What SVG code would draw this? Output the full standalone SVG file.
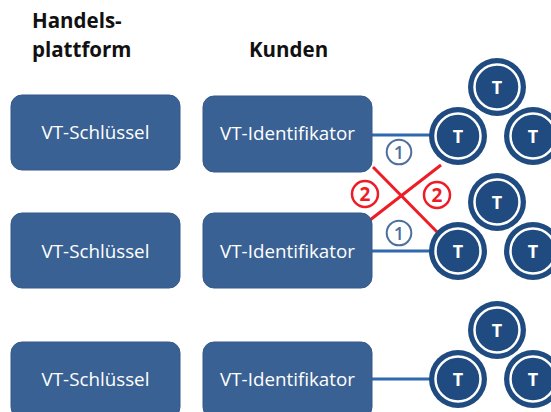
<svg xmlns="http://www.w3.org/2000/svg" width="551" height="412" viewBox="0 0 551 412">
<defs>
<style>
.hdr{font-family:"Open Sans","Liberation Sans",sans-serif;font-weight:bold;font-size:20.5px;fill:#111}
.box{fill:#3a6193;stroke:#34598a;stroke-width:1}
.btxt{font-family:"Open Sans","Liberation Sans",sans-serif;font-size:18.8px;fill:#fff;text-anchor:middle}
.cout{fill:#1f4b80}
.cring{fill:none;stroke:#fff;stroke-width:2.5}
.ctxt{font-family:"Open Sans","Liberation Sans",sans-serif;font-weight:bold;font-size:18px;fill:#fff;text-anchor:middle}
.link{stroke:#2f69b0;stroke-width:3;fill:none}
.red{stroke:#ee1c25;stroke-width:3;fill:none}
.n1c{fill:#fff;stroke:#4d6f9c;stroke-width:2}
.n1t{font-family:"Open Sans","Liberation Sans",sans-serif;font-weight:600;font-size:18px;fill:#4d6f9c;text-anchor:middle}
.n2c{fill:#fff;stroke:#ee1c25;stroke-width:2.5}
.n2t{font-family:"Open Sans","Liberation Sans",sans-serif;font-weight:bold;font-size:19px;fill:#ee1c25;text-anchor:middle}
</style>
<g id="tok">
<circle class="cout" r="29"/>
<circle class="cring" r="22.5"/>
<text class="ctxt" y="6.5">T</text>
</g>
</defs>
<rect width="551" height="412" fill="#fff"/>
<g id="headers">
<text class="hdr" x="32" y="28">Handels-</text>
<text class="hdr" x="32" y="57">plattform</text>
<text class="hdr" x="249" y="57">Kunden</text>
</g>
<g id="connectors">
<line class="link" x1="372" y1="135" x2="430" y2="135"/>
<line class="link" x1="372" y1="251" x2="430" y2="251"/>
<line class="link" x1="372" y1="379" x2="430" y2="379"/>
<line class="red" x1="373" y1="167" x2="441" y2="236"/>
<line class="red" x1="441" y1="165" x2="370" y2="220"/>
</g>
<g id="labels">
<circle class="n1c" cx="399" cy="152" r="12.3"/><text class="n1t" x="399" y="158.5">1</text>
<circle class="n1c" cx="399" cy="233" r="12.3"/><text class="n1t" x="399" y="239.5">1</text>
<circle class="n2c" cx="365" cy="194" r="13"/><text class="n2t" x="365" y="200.5">2</text>
<circle class="n2c" cx="437" cy="195" r="13"/><text class="n2t" x="437" y="201.5">2</text>
</g>
<g id="schluessel1"><rect class="box" x="11" y="95" width="169" height="75" rx="11"/><text class="btxt" x="95.5" y="139">VT-Schlüssel</text></g>
<g id="ident1"><rect class="box" x="203" y="96" width="169" height="76" rx="11"/><text class="btxt" x="287.5" y="140">VT-Identifikator</text></g>
<g id="schluessel2"><rect class="box" x="11" y="213" width="169" height="75" rx="11"/><text class="btxt" x="95.5" y="258">VT-Schlüssel</text></g>
<g id="ident2"><rect class="box" x="203" y="213" width="169" height="75" rx="11"/><text class="btxt" x="287.5" y="258">VT-Identifikator</text></g>
<g id="schluessel3"><rect class="box" x="11" y="342" width="169" height="76" rx="11"/><text class="btxt" x="95.5" y="386">VT-Schlüssel</text></g>
<g id="ident3"><rect class="box" x="203" y="342" width="169" height="76" rx="11"/><text class="btxt" x="287.5" y="386">VT-Identifikator</text></g>
<g id="tokens1">
<use href="#tok" x="497" y="87"/>
<use href="#tok" x="458" y="136"/>
<use href="#tok" x="533" y="136"/>
</g>
<g id="tokens2">
<use href="#tok" x="497" y="202"/>
<use href="#tok" x="458" y="251"/>
<use href="#tok" x="533" y="251"/>
</g>
<g id="tokens3">
<use href="#tok" x="497" y="330"/>
<use href="#tok" x="458" y="379"/>
<use href="#tok" x="533" y="379"/>
</g>
</svg>
